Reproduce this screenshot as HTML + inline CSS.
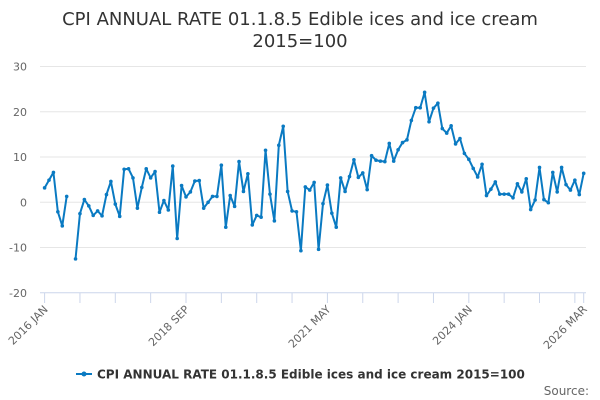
<!DOCTYPE html>
<html><head><meta charset="utf-8"><style>
html,body{margin:0;padding:0;background:#fff;}
svg{display:block;font-family:"DejaVu Sans","Liberation Sans",sans-serif;}
</style></head><body>
<svg id="chart" width="600" height="400">
<text x="300" y="25" text-anchor="middle" font-size="18" fill="#333">CPI ANNUAL RATE 01.1.8.5 Edible ices and ice cream</text>
<text x="300" y="47" text-anchor="middle" font-size="18" fill="#333">2015=100</text>
<g id="grid"></g><g id="xaxis"></g><g id="series"></g>
<g>
<line x1="76" y1="374" x2="92" y2="374" stroke="#0a7ac2" stroke-width="2"/>
<circle cx="84" cy="374" r="2.5" fill="#0a7ac2"/>
<text x="97" y="378.5" font-size="12" font-weight="bold" fill="#333">CPI ANNUAL RATE 01.1.8.5 Edible ices and ice cream 2015=100</text>
</g>
<text x="589" y="395" text-anchor="end" font-size="12" fill="#666">Source:</text>
</svg>
<script>
const yTicks=[30,20,10,0,-10,-20];
const xLabels=["2016 JAN","2018 SEP","2021 MAY","2024 JAN","2026 MAR"];
const xLabelIdx=[0,32,64,96,122];
const values=[3.2,4.9,6.6,-2.1,-5.2,1.3,null,-12.5,-2.5,0.6,-0.8,-2.9,-1.9,-3.0,1.7,4.6,-0.4,-3.1,7.3,7.4,5.4,-1.3,3.3,7.4,5.4,6.8,-2.2,0.4,-1.7,8.0,-8.0,3.7,1.2,2.3,4.7,4.8,-1.3,0.0,1.3,1.3,8.2,
-5.5,1.5,-0.9,9.0,2.4,6.3,-5.0,-2.9,-3.3,11.5,1.8,-4.1,12.6,16.8,2.4,-1.9,-2.1,-10.7,3.4,2.7,4.4,-10.4,-0.3,3.8,-2.4,-5.5,5.4,2.4,5.7,9.4,5.5,6.5,2.8,10.3,9.3,9.1,9.0,13.0,9.1,11.6,
13.2,13.8,18.1,20.9,20.9,24.3,17.8,20.8,21.9,16.3,15.3,16.9,12.9,14.1,10.8,9.5,7.5,5.6,8.4,1.5,2.9,4.5,1.8,1.8,1.8,1.0,4.1,2.3,5.2,-1.6,0.5,7.7,0.6,-0.1,6.6,2.3,7.7,3.9,2.7,4.9,1.7,6.4];
const NS="http://www.w3.org/2000/svg";
const x0=44.6,x1=583.7,n=values.length;
function xs(i){return x0+i*(x1-x0)/(n-1);}
function ys(v){return 202.3-v*4.525;}
const grid=document.getElementById('grid');
yTicks.forEach(t=>{
 const l=document.createElementNS(NS,'line');
 
 
 l.setAttribute('x1',40);l.setAttribute('x2',586);l.setAttribute('y1',ys(t));l.setAttribute('y2',ys(t));
 l.setAttribute('stroke',t===-20?'#ccd6eb':'#e6e6e6');l.setAttribute('stroke-width',1);
 grid.appendChild(l);
 const tx=document.createElementNS(NS,'text');
 
 
 tx.setAttribute('x',27);tx.setAttribute('y',ys(t)+4);tx.setAttribute('text-anchor','end');
 tx.setAttribute('font-size',11);tx.setAttribute('fill','#666');tx.textContent=t;
 grid.appendChild(tx);
});
const xa=document.getElementById('xaxis');
for(let i=0;i<n;i+=8){
 const l=document.createElementNS(NS,'line');
 
 
 l.setAttribute('x1',xs(i));l.setAttribute('x2',xs(i));l.setAttribute('y1',293);l.setAttribute('y2',303);
 l.setAttribute('stroke','#ccd6eb');xa.appendChild(l);
}
{const l=document.createElementNS(NS,'line');
 
 
 l.setAttribute('x1',xs(n-1));l.setAttribute('x2',xs(n-1));l.setAttribute('y1',293);l.setAttribute('y2',303);
 l.setAttribute('stroke','#ccd6eb');xa.appendChild(l);}
xLabels.forEach((s,k)=>{
 const x=xs(xLabelIdx[k]),y=306;
 const t=document.createElementNS(NS,'text');
 
 
 t.setAttribute('x',x+4);t.setAttribute('y',y+4);t.setAttribute('text-anchor','end');
 t.setAttribute('font-size',11);t.setAttribute('fill','#666');
 t.setAttribute('transform','rotate(-45 '+(x+4)+' '+(y+4)+')');
 t.textContent=s;xa.appendChild(t);
});
const sg=document.getElementById('series');
let segs=[],cur=[];
values.forEach((v,i)=>{if(v===null){if(cur.length)segs.push(cur);cur=[];}else cur.push([xs(i),ys(v)]);});
if(cur.length)segs.push(cur);
segs.forEach(sgm=>{
 const p=document.createElementNS(NS,'polyline');
 
 
 p.setAttribute('points',sgm.map(q=>q.join(',')).join(' '));
 p.setAttribute('fill','none');p.setAttribute('stroke','#0a7ac2');p.setAttribute('stroke-width',2);p.setAttribute('stroke-linejoin','round');
 sg.appendChild(p);
});
values.forEach((v,i)=>{
 if(v===null)return;
 const c=document.createElementNS(NS,'circle');
 
 
 c.setAttribute('cx',xs(i));c.setAttribute('cy',ys(v));c.setAttribute('r',1.8);c.setAttribute('fill','#0a7ac2');
 sg.appendChild(c);
});
</script>
</body></html>
